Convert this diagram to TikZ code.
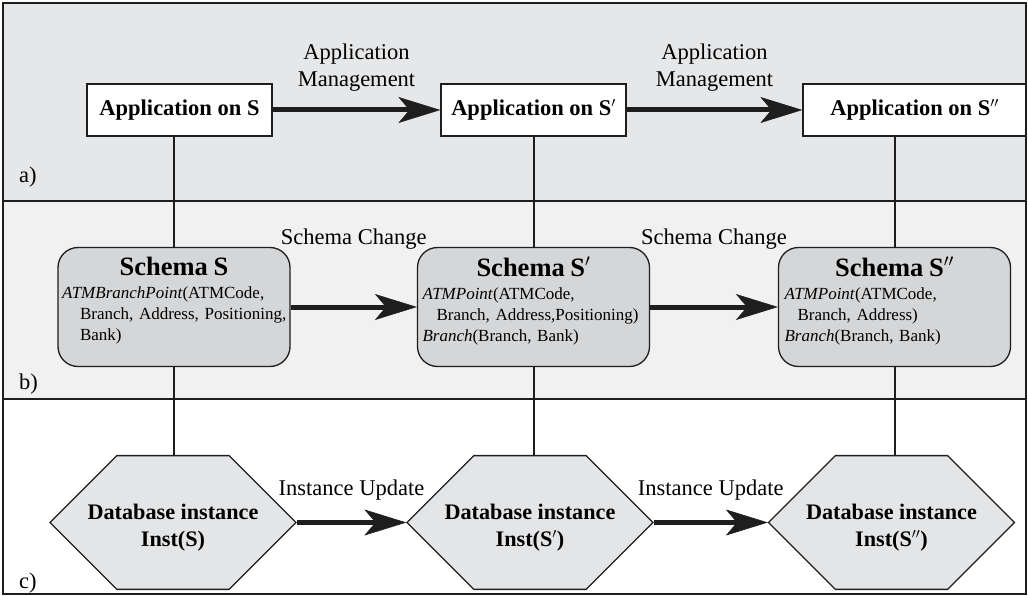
\documentclass[tikz,border=0pt]{standalone}
\usepackage{fontspec}
\setmainfont{Liberation Serif}
\usetikzlibrary{arrows.meta,shapes.misc}

\definecolor{bandA}{HTML}{E6E7E9}
\definecolor{bandB}{HTML}{F1F1F1}
\definecolor{schemaFill}{HTML}{D5D6D8}
\definecolor{instFill}{HTML}{E4E5E7}
\definecolor{ink}{HTML}{1E1E1E}

\newcommand{\fsz}[2]{\fontsize{#1}{#2}\selectfont}
% title line of a schema box
\newcommand{\schtitle}[1]{\centerline{\fsz{26.5}{30}\bfseries #1}\par\vspace{2pt}}
% one line of a relation, shifted right by #1
\newcommand{\rel}[2]{\hspace*{#1}\mbox{#2}}
% empty room below the relations, so the text sits high in its box
\newcommand{\schfoot}{\par\nointerlineskip\vspace*{12pt}\hbox{}}

\begin{document}
\begin{tikzpicture}[x=1pt,y=-1pt,
  every node/.style={font=\fsz{22.5}{27}},
  appbox/.style={draw=ink, line width=1.3pt, fill=white, minimum height=52pt,
    inner sep=0pt, font=\fsz{22.5}{27}\bfseries},
  schemabox/.style={draw=ink, line width=1.3pt, fill=schemaFill, rounded corners=20pt,
    minimum width=232pt, minimum height=119pt, text width=230pt,
    inner xsep=1pt, inner ysep=0pt, font=\fsz{17}{21}},
  instbox/.style={chamfered rectangle, chamfered rectangle xsep=57pt,
    chamfered rectangle ysep=38.5pt, draw=ink, line width=1.3pt, fill=instFill,
    minimum width=246pt, minimum height=77pt, inner sep=0pt, align=center,
    font=\fsz{22.2}{27}\bfseries},
  link/.style={draw=ink, line width=2pt},
  flow/.style={draw=ink, line width=5pt,
    -{Stealth[length=42pt,width=26pt,inset=11pt,line width=0.5pt]}},
  tag/.style={inner sep=0pt, align=center, font=\fsz{22.5}{27}},
  band/.style={inner sep=0pt, anchor=base west, font=\fsz{22.5}{27}},
]
\useasboundingbox (0,0) rectangle (1028,596);

% three horizontal bands
\fill[bandA] (3,3) rectangle (1026,201);
\fill[bandB] (3,201) rectangle (1026,399);
\fill[white] (3,399) rectangle (1026,594);
\draw[link] (3,201) -- (1026,201);
\draw[link] (3,399) -- (1026,399);

% a) applications
\node[appbox, minimum width=185pt] (a1) at (179.5,110) {Application on S};
\node[appbox, minimum width=185pt] (a2) at (533.5,110) {Application on S$'$};
\node[appbox, minimum width=223pt] (a3) at (914.5,110) {Application on S$''$};

% b) schemas
\node[schemabox] (s1) at (174,307) {%
  \schtitle{Schema S}%
  \rel{3pt}{\textit{ATMBranchPoint}(ATMCode,}\\
  \rel{21pt}{Branch, Address, Positioning,}\\
  \rel{21pt}{Bank)}\schfoot};
\node[schemabox] (s2) at (533.5,307) {%
  \schtitle{Schema S$'$}%
  \rel{4pt}{\textit{ATMPoint}(ATMCode,}\\
  \rel{18pt}{Branch, Address,Positioning)}\\
  \rel{4pt}{\textit{Branch}(Branch, Bank)}\schfoot};
\node[schemabox] (s3) at (894.5,307) {%
  \schtitle{Schema S$''$}%
  \rel{5pt}{\textit{ATMPoint}(ATMCode,}\\
  \rel{18pt}{Branch, Address)}\\
  \rel{5pt}{\textit{Branch}(Branch, Bank)}\schfoot};

% c) database instances
\node[instbox] (h1) at (173,522.5) {\rule{0pt}{25pt}Database instance\\Inst(S)};
\node[instbox] (h2) at (530,522.5) {\rule{0pt}{25pt}Database instance\\Inst(S$'$)};
\node[instbox] (h3) at (891.5,522.5) {\rule{0pt}{25pt}Database instance\\Inst(S$''$)};

% vertical links between the levels
\draw[link] (s1.north) -- (s1.north |- a1.south);
\draw[link] (s2.north) -- (s2.north |- a2.south);
\draw[link] (s3.north) -- (s3.north |- a3.south);
\draw[link] (s1.south) -- (s1.south |- h1.north);
\draw[link] (s2.south) -- (s2.south |- h2.north);
\draw[link] (s3.south) -- (s3.south |- h3.north);

% evolution arrows
\draw[flow] (a1.east) -- node[tag, above=16pt] (m1) {Application\\Management} (a2.west);
\draw[flow] (a2.east) -- node[tag, above=16pt] (m2) {Application\\Management} (a3.west);
\draw[flow] (s1.east) -- node[tag, above=55pt] (c1) {Schema Change} (s2.west);
\draw[flow] (s2.east) -- node[tag, above=55pt] (c2) {Schema Change} (s3.west);
\draw[flow] (h1.east) -- node[tag, above=19.5pt] (u1) {Instance Update} (h2.west);
\draw[flow] (h2.east) -- node[tag, above=19.5pt] (u2) {Instance Update} (h3.west);

% band letters
\node[band] (la) at (19,183) {a)};
\node[band] (lb) at (19,389) {b)};
\node[band] (lc) at (19,588) {c)};

% outer frame
\draw[link] (3,3) rectangle (1026,594);
\end{tikzpicture}
\end{document}
